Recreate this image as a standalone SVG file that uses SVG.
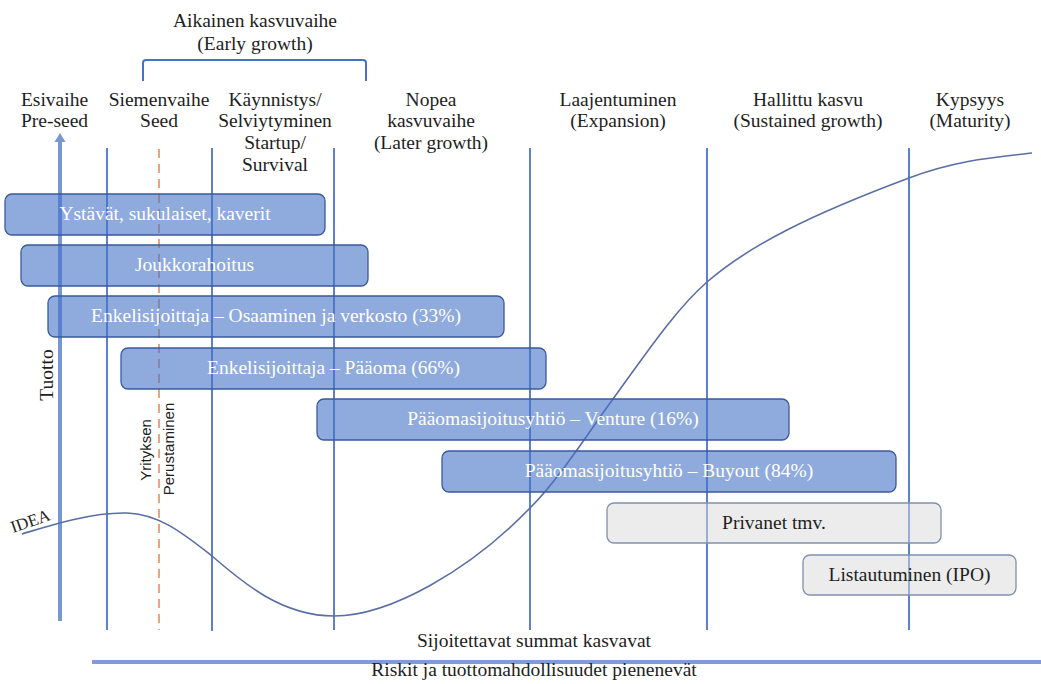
<svg xmlns="http://www.w3.org/2000/svg" width="1041" height="684" viewBox="0 0 1041 684">
<style>
.hdr{font-family:"Liberation Serif",serif;font-size:19.5px;fill:#1e1e1e;text-anchor:middle}
.btxt{font-family:"Liberation Serif",serif;font-size:19.5px;fill:#ffffff;text-anchor:middle}
.gtxt{font-family:"Liberation Serif",serif;font-size:19.5px;fill:#1e1e1e;text-anchor:middle}
.box{fill:#4472c4;fill-opacity:0.6;stroke:#3a5a9a;stroke-width:1.3}
.gbox{fill:#d9d9dc;fill-opacity:0.5;stroke:#8090b0;stroke-width:1.3}
.grid{stroke:#4a74c8;stroke-width:1.8;fill:none}
.sans{font-family:"Liberation Sans",sans-serif;font-size:15px;fill:#1e1e1e;text-anchor:middle}
</style>
<rect width="1041" height="684" fill="#ffffff"/>
<g id="headers">
<text class="hdr" x="255" y="27">Aikainen kasvuvaihe</text>
<text class="hdr" x="255" y="50">(Early growth)</text>
<path d="M143,81 V63 Q143,60 146,60 H363 Q366,60 366,63 V81" fill="none" stroke="#4472c4" stroke-width="2"/>
<text class="hdr" x="54.5" y="106">Esivaihe</text>
<text class="hdr" x="54.5" y="127">Pre-seed</text>
<text class="hdr" x="159" y="106">Siemenvaihe</text>
<text class="hdr" x="159" y="127">Seed</text>
<text class="hdr" x="275" y="106">Käynnistys/</text>
<text class="hdr" x="275" y="127">Selviytyminen</text>
<text class="hdr" x="275" y="149">Startup/</text>
<text class="hdr" x="275" y="171">Survival</text>
<text class="hdr" x="431" y="106">Nopea</text>
<text class="hdr" x="431" y="127">kasvuvaihe</text>
<text class="hdr" x="431" y="149">(Later growth)</text>
<text class="hdr" x="618" y="106">Laajentuminen</text>
<text class="hdr" x="618" y="127">(Expansion)</text>
<text class="hdr" x="808" y="106">Hallittu kasvu</text>
<text class="hdr" x="808" y="127">(Sustained growth)</text>
<text class="hdr" x="970" y="106">Kypsyys</text>
<text class="hdr" x="970" y="127">(Maturity)</text>
</g>
<g id="grid">
<line class="grid" x1="107" y1="148" x2="107" y2="630"/>
<line class="grid" x1="212" y1="148" x2="212" y2="631"/>
<line class="grid" x1="334" y1="148" x2="334" y2="630"/>
<line class="grid" x1="530" y1="148" x2="530" y2="630"/>
<line class="grid" x1="707" y1="148" x2="707" y2="630"/>
<line class="grid" x1="909" y1="148" x2="909" y2="630"/>
<line x1="159" y1="149" x2="159" y2="630" stroke="#f0a27c" stroke-width="2" stroke-dasharray="9,6"/>
<line x1="60" y1="140" x2="60" y2="621" stroke="#7896d6" stroke-width="4"/>
<polygon points="54.5,142 60,133 65.5,142" fill="#7896d6"/>
<line x1="92" y1="662" x2="1041" y2="662" stroke="#7f9cd8" stroke-width="4"/>
</g>
<g id="curve">
<path d="M22,534 C45,527 90,512 127,513 C160,514 185,535 212,556 C240,580 280,616 334,616 C390,616 470,570 530,508 C560,478 590,430 613,399 C645,355 675,310 707,282 C750,245 810,215 909,178 C960,159 1000,157 1032,153" fill="none" stroke="#5a6ea6" stroke-width="1.6"/>
</g>
<g id="n1"><rect class="box" x="5" y="194" width="320" height="41" rx="7"/><text class="btxt" x="165" y="220">Ystävät, sukulaiset, kaverit</text></g>
<g id="n2"><rect class="box" x="21" y="245" width="347" height="41" rx="7"/><text class="btxt" x="194.5" y="271">Joukkorahoitus</text></g>
<g id="n3"><rect class="box" x="48" y="296" width="456" height="41" rx="7"/><text class="btxt" x="276" y="322">Enkelisijoittaja – Osaaminen ja verkosto (33%)</text></g>
<g id="n4"><rect class="box" x="121" y="348" width="425" height="41" rx="7"/><text class="btxt" x="333.5" y="374">Enkelisijoittaja – Pääoma (66%)</text></g>
<g id="n5"><rect class="box" x="317" y="399" width="472" height="41" rx="7"/><text class="btxt" x="553" y="425">Pääomasijoitusyhtiö – Venture (16%)</text></g>
<g id="n6"><rect class="box" x="442" y="451" width="454" height="41" rx="7"/><text class="btxt" x="669" y="477">Pääomasijoitusyhtiö – Buyout (84%)</text></g>
<g id="n7"><rect class="gbox" x="607" y="503" width="334" height="40" rx="7"/><text class="gtxt" x="774" y="529">Privanet tmv.</text></g>
<g id="n8"><rect class="gbox" x="803" y="555" width="213" height="40" rx="7"/><text class="gtxt" x="909.5" y="581">Listautuminen (IPO)</text></g>
<g id="labels">
<text class="hdr" transform="translate(53,375) rotate(-90)">Tuotto</text>
<text class="sans" transform="translate(151,450) rotate(-90)">Yrityksen</text>
<text class="sans" transform="translate(174,449) rotate(-90)">Perustaminen</text>
<text font-family="Liberation Serif, serif" font-size="17" fill="#1e1e1e" transform="translate(13,533) rotate(-19)">IDEA</text>
<text class="hdr" x="534" y="647">Sijoitettavat summat kasvavat</text>
<text class="hdr" x="534" y="676">Riskit ja tuottomahdollisuudet pienenevät</text>
</g>
</svg>
